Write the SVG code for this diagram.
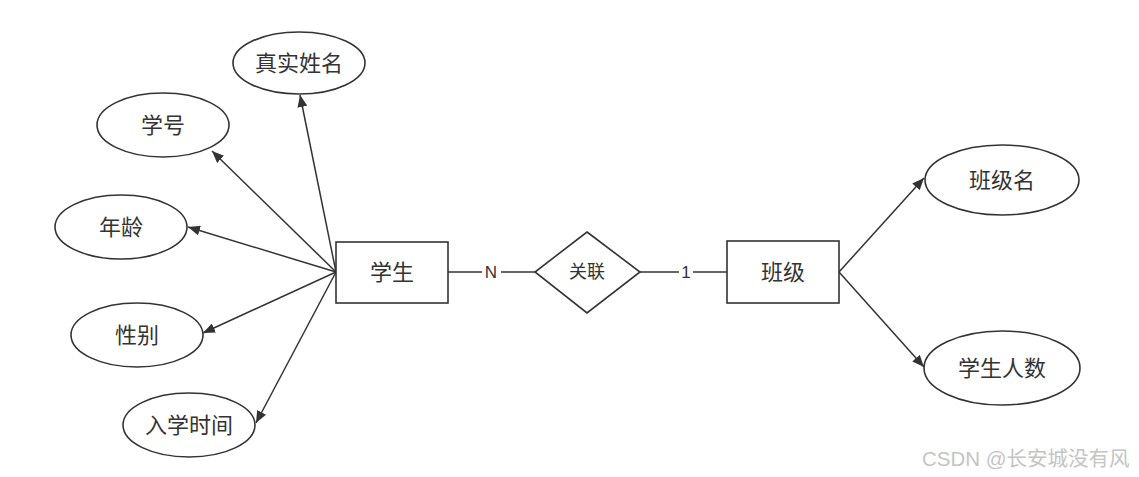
<svg xmlns="http://www.w3.org/2000/svg" width="1139" height="477" viewBox="0 0 1139 477">
<style>
.shape{fill:#fff;stroke:#333;stroke-width:1.6}
.edge{fill:none;stroke:#333;stroke-width:1.5}
.lbl{font-family:"Liberation Sans","Noto Sans CJK SC",sans-serif;font-size:22px;fill:#333;text-anchor:middle;dominant-baseline:central}
.sm{font-size:17px}
.rel{font-size:18px}
.wm{font-family:"Liberation Sans","Noto Sans CJK SC",sans-serif;font-size:20.5px;fill:#c4c4c4}
</style>
<defs>
<marker id="arr" viewBox="0 0 12 10" refX="12" refY="5" markerWidth="12" markerHeight="10" markerUnits="userSpaceOnUse" orient="auto">
<path d="M0,0 L12,5 L0,10 z" fill="#333"/>
</marker>
</defs>
<rect width="1139" height="477" fill="#fff"/>
<g id="connectors">
<line class="edge" x1="336" y1="272" x2="300" y2="95" marker-end="url(#arr)"/>
<line class="edge" x1="336" y1="272" x2="212" y2="151" marker-end="url(#arr)"/>
<line class="edge" x1="336" y1="272" x2="188" y2="227" marker-end="url(#arr)"/>
<line class="edge" x1="336" y1="272" x2="203" y2="333" marker-end="url(#arr)"/>
<line class="edge" x1="336" y1="272" x2="256" y2="423" marker-end="url(#arr)"/>
<line class="edge" x1="839" y1="272" x2="924" y2="178" marker-end="url(#arr)"/>
<line class="edge" x1="839" y1="272" x2="924" y2="367" marker-end="url(#arr)"/>
<line class="edge" x1="448" y1="272" x2="482" y2="272"/>
<line class="edge" x1="501" y1="272" x2="535" y2="272"/>
<line class="edge" x1="640" y1="272" x2="679" y2="272"/>
<line class="edge" x1="693" y1="272" x2="727" y2="272"/>
<text class="lbl sm" x="491" y="272">N</text>
<text class="lbl sm" x="686" y="272">1</text>
</g>
<g id="student">
<rect class="shape" x="336" y="242" width="112" height="61"/>
<text class="lbl" x="392" y="272">学生</text>
</g>
<g id="relation">
<polygon class="shape" points="587,232 640,272 587,313 535,272"/>
<text class="lbl rel" x="587" y="272">关联</text>
</g>
<g id="class">
<rect class="shape" x="727" y="241" width="112" height="62"/>
<text class="lbl" x="783" y="272">班级</text>
</g>
<g id="realname">
<ellipse class="shape" cx="299" cy="63" rx="66" ry="31"/>
<text class="lbl" x="299" y="63">真实姓名</text>
</g>
<g id="stuno">
<ellipse class="shape" cx="163" cy="125" rx="66" ry="32"/>
<text class="lbl" x="163" y="125">学号</text>
</g>
<g id="age">
<ellipse class="shape" cx="121" cy="227" rx="66" ry="32"/>
<text class="lbl" x="121" y="227">年龄</text>
</g>
<g id="gender">
<ellipse class="shape" cx="137" cy="335" rx="66" ry="32"/>
<text class="lbl" x="137" y="335">性别</text>
</g>
<g id="enroll">
<ellipse class="shape" cx="189" cy="425" rx="66" ry="32"/>
<text class="lbl" x="189" y="425">入学时间</text>
</g>
<g id="classname">
<ellipse class="shape" cx="1002" cy="180" rx="77" ry="35"/>
<text class="lbl" x="1002" y="180">班级名</text>
</g>
<g id="stucount">
<ellipse class="shape" cx="1002" cy="368" rx="78" ry="37"/>
<text class="lbl" x="1002" y="368">学生人数</text>
</g>
<text class="wm" x="922" y="466">CSDN @长安城没有风</text>
</svg>
